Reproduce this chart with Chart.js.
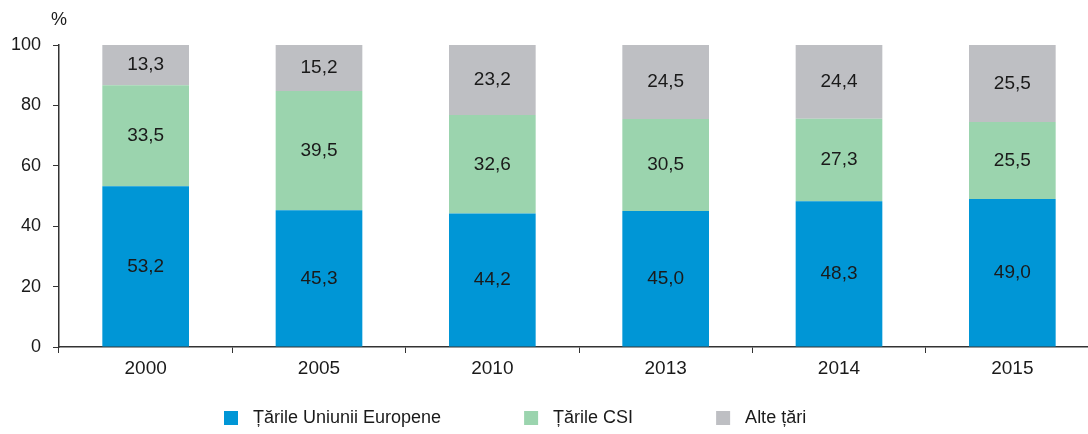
<!DOCTYPE html>
<html>
<head>
<meta charset="utf-8">
<script src="https://cdn.jsdelivr.net/npm/chart.js@4.4.1/dist/chart.umd.min.js"></script>
<style>
  html, body { margin: 0; padding: 0; overflow: hidden; background: #fff; }
  #wrap { width: 1110px; height: 434px; }
</style>
</head>
<body>
<div id="wrap"><canvas id="chart" width="1110" height="434"></canvas></div>
<script>
// date
const years = ['2000', '2005', '2010', '2013', '2014', '2015'];
const ue = [53.2, 45.3, 44.2, 45.0, 48.3, 49.0];
const csi = [33.5, 39.5, 32.6, 30.5, 27.3, 25.5];
const alte = [13.3, 15.2, 23.2, 24.5, 24.4, 25.5];
const seriesNames = ['Țările Uniunii Europene', 'Țările CSI', 'Alte țări'];
const yTicks = [0, 20, 40, 60, 80, 100];

const colors = ['#0096d6', '#9bd4ae', '#bebfc3'];
const fontFam = '"Liberation Sans", Arial, sans-serif';
const textColor = '#1a1a1a';

// etichete valori in mijlocul segmentelor
const valueLabels = {
  id: 'valueLabels',
  afterDatasetsDraw(chart) {
    const ctx = chart.ctx;
    ctx.save();
    ctx.font = '19px ' + fontFam;
    ctx.fillStyle = textColor;
    ctx.textAlign = 'center';
    ctx.textBaseline = 'middle';
    chart.data.datasets.forEach((ds, i) => {
      chart.getDatasetMeta(i).data.forEach((bar, j) => {
        const mid = (bar.y + bar.base) / 2;
        ctx.fillText(ds.data[j].toFixed(1).replace('.', ','), bar.x, mid);
      });
    });
    ctx.restore();
  }
};

// simbol % si legenda
const extras = {
  id: 'extras',
  afterDraw(chart) {
    const ctx = chart.ctx;
    const area = chart.chartArea;
    ctx.save();
    ctx.font = '18px ' + fontFam;
    ctx.fillStyle = textColor;
    ctx.textAlign = 'center';
    ctx.textBaseline = 'middle';
    ctx.fillText('%', area.left, 20);

    let x = 224;
    const y = 418;
    ctx.textAlign = 'left';
    chart.data.datasets.forEach((ds) => {
      ctx.fillStyle = ds.backgroundColor;
      ctx.fillRect(x, y - 7, 14, 14);
      ctx.fillStyle = textColor;
      ctx.fillText(ds.label, x + 29, y);
      x += 29 + ctx.measureText(ds.label).width + 83;
    });
    ctx.restore();
  }
};

new Chart(document.getElementById('chart'), {
  type: 'bar',
  data: {
    labels: years,
    datasets: [
      { label: seriesNames[0], data: ue, backgroundColor: colors[0] },
      { label: seriesNames[1], data: csi, backgroundColor: colors[1] },
      { label: seriesNames[2], data: alte, backgroundColor: colors[2] }
    ]
  },
  options: {
    responsive: false,
    animation: false,
    layout: { padding: { left: 10, right: 11, top: 45, bottom: 50 } },
    datasets: { bar: { barPercentage: 0.5, categoryPercentage: 1.0 } },
    plugins: {
      legend: { display: false },
      tooltip: { enabled: false }
    },
    scales: {
      x: {
        stacked: true,
        afterFit(scale) { scale.height = 37; },
        grid: { drawOnChartArea: false, tickLength: 6, color: '#333', offset: true },
        border: { color: '#333', width: 1.5 },
        ticks: { color: textColor, font: { size: 19, family: fontFam }, padding: 4 }
      },
      y: {
        stacked: true,
        min: 0,
        max: 100,
        afterBuildTicks(scale) { scale.ticks = yTicks.map(v => ({ value: v })); },
        afterFit(scale) { scale.width = 49; },
        grid: { drawOnChartArea: false, tickLength: 6, color: '#333' },
        border: { color: '#333', width: 1.5 },
        ticks: { color: textColor, font: { size: 18, family: fontFam }, padding: 12 }
      }
    }
  },
  plugins: [valueLabels, extras]
});
</script>
</body>
</html>
